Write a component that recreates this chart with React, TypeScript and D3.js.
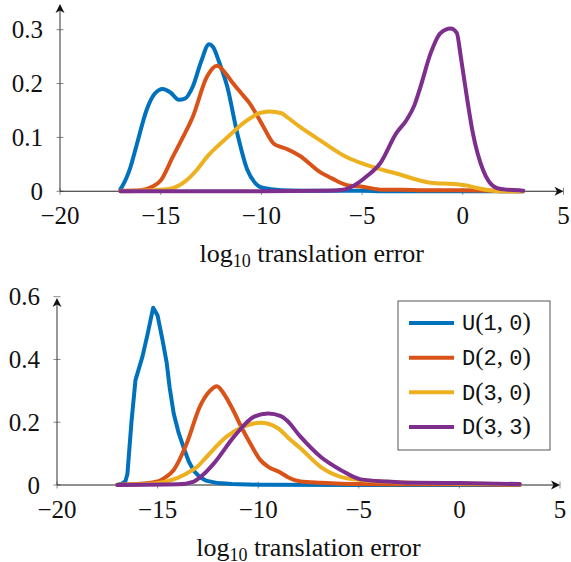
import React from 'react';
import * as d3 from 'd3';

type Pt = [number, number];

const seriesNames = ['U', 'D', 'D', 'D'];
const seriesArgs = [['1', '0'], ['2', '0'], ['3', '0'], ['3', '3']];
const seriesColors = ['#0072BD', '#D95319', '#EDB120', '#7E2F8E'];

const xTicks = [-20, -15, -10, -5, 0, 5];
const topYTicks = [0, 0.1, 0.2, 0.3];
const bottomYTicks = [0, 0.2, 0.4, 0.6];
const axisTitle = 'translation error';

// top panel
const topU10: Pt[] = [[-17, 0.004], [-16.9, 0.01], [-16.5, 0.045], [-16.2, 0.085], [-15.7, 0.151], [-15.3, 0.181], [-14.9, 0.19], [-14.5, 0.183], [-14.1, 0.17], [-13.8, 0.172], [-13.4, 0.195], [-13.0, 0.24], [-12.6, 0.273], [-12.4, 0.268], [-12.1, 0.24], [-11.7, 0.195], [-11.2, 0.108], [-10.7, 0.04], [-10.3, 0.015], [-10.0, 0.007], [-9, 0.002], [-7, 0.001], [-5, 0.001], [-4, 0], [3, 0]];
const topD20: Pt[] = [[-17, 0.001], [-16, 0.002], [-15.4, 0.009], [-15, 0.02], [-14.4, 0.064], [-13.9, 0.1], [-13.4, 0.139], [-12.7, 0.213], [-12.2, 0.233], [-11.8, 0.22], [-11.4, 0.2], [-11.0, 0.182], [-10.6, 0.164], [-10.2, 0.14], [-9.9, 0.12], [-9.4, 0.089], [-9.0, 0.082], [-8.7, 0.078], [-8.1, 0.066], [-7.1, 0.036], [-6.5, 0.024], [-5.8, 0.012], [-4.9, 0.008], [-4.0, 0.003], [-3, 0.003], [-2, 0.002], [0, 0.002], [1.5, 0.001], [2, 0], [3, 0]];
const topD30: Pt[] = [[-17, 0], [-16, 0.001], [-15, 0.003], [-14.4, 0.006], [-13.7, 0.021], [-13.2, 0.04], [-12.7, 0.064], [-12.2, 0.083], [-11.7, 0.1], [-10.7, 0.132], [-10.1, 0.145], [-9.6, 0.148], [-9.0, 0.145], [-8.7, 0.137], [-8.1, 0.12], [-7.1, 0.095], [-5.8, 0.064], [-4.8, 0.049], [-3.3, 0.033], [-1.6, 0.016], [-0.3, 0.013], [0.3, 0.01], [0.7, 0.006], [1.5, 0.001], [2, 0], [3, 0]];
const topD33: Pt[] = [[-17, 0], [-10, 0], [-7, 0.001], [-6.2, 0.002], [-5.8, 0.004], [-5.3, 0.013], [-4.8, 0.027], [-4.1, 0.052], [-3.3, 0.108], [-2.8, 0.132], [-2.4, 0.16], [-2.1, 0.194], [-1.6, 0.256], [-1.1, 0.294], [-0.6, 0.302], [-0.3, 0.294], [-0.1, 0.25], [0.1, 0.2], [0.5, 0.108], [1.0, 0.04], [1.3, 0.018], [1.7, 0.006], [2.2, 0.003], [2.8, 0.002], [3, 0.001]];

// bottom panel
const botU10: Pt[] = [[-17, 0], [-16.8, 0.003], [-16.6, 0.012], [-16.5, 0.035], [-16.3, 0.2], [-16.1, 0.334], [-15.75, 0.41], [-15.5, 0.48], [-15.22, 0.565], [-15.0, 0.54], [-14.75, 0.46], [-14.55, 0.39], [-14.4, 0.31], [-14.2, 0.228], [-13.95, 0.165], [-13.7, 0.118], [-13.45, 0.075], [-13.2, 0.045], [-12.9, 0.025], [-12.6, 0.014], [-12, 0.006], [-11.3, 0.003], [-10, 0.001], [-5, 0], [3, 0]];
const botD20: Pt[] = [[-17, 0.001], [-16, 0.003], [-15.0, 0.011], [-14.6, 0.025], [-14.2, 0.048], [-13.55, 0.133], [-12.9, 0.25], [-12.4, 0.3], [-12.05, 0.315], [-11.7, 0.29], [-11.25, 0.239], [-10.8, 0.18], [-10.4, 0.133], [-9.9, 0.08], [-9.5, 0.058], [-8.9, 0.04], [-8.5, 0.024], [-7.9, 0.011], [-6.9, 0.007], [-5, 0.003], [0, 0.002], [3, 0.001]];
const botD30: Pt[] = [[-17, 0], [-15.5, 0.003], [-14.55, 0.011], [-13.55, 0.037], [-13, 0.06], [-12.56, 0.09], [-11.57, 0.154], [-10.74, 0.186], [-9.9, 0.198], [-9.5, 0.195], [-9.0, 0.18], [-8.5, 0.15], [-7.9, 0.117], [-6.9, 0.058], [-5.9, 0.026], [-4.9, 0.016], [-3.6, 0.01], [-2, 0.006], [0, 0.005], [3, 0.002]];
const botD33: Pt[] = [[-17, 0], [-14, 0.002], [-13.2, 0.011], [-12.7, 0.035], [-12.2, 0.069], [-11.2, 0.154], [-10.2, 0.218], [-9.5, 0.228], [-8.9, 0.22], [-8.6, 0.207], [-7.9, 0.154], [-6.9, 0.09], [-5.9, 0.048], [-4.9, 0.018], [-3.6, 0.011], [-2.3, 0.007], [0, 0.006], [3, 0.003]];

const topSeries = [topU10, topD20, topD30, topD33];
const botSeries = [botU10, botD20, botD30, botD33];

const serif = 'Liberation Serif';
const mono = 'Liberation Mono';

interface PanelProps {
  series: Pt[][];
  yTicks: number[];
  x0: number;
  x1: number;
  yBase: number;
  yTop: number;
  arrowTop: number;
  sharpFirst?: boolean;
}

const fmtY = (v: number) => (v === 0 ? '0' : v.toFixed(1));
const fmtX = (v: number) => (v < 0 ? '\u2212' + Math.abs(v) : String(v));

const Panel = ({ series, yTicks, x0, x1, yBase, yTop, arrowTop, sharpFirst }: PanelProps) => {
  const x = d3.scaleLinear().domain([-20, 5]).range([x0, x1]);
  const y = d3.scaleLinear().domain([0, yTicks[yTicks.length - 1]]).range([yBase, yTop]);
  const smooth = d3.line<Pt>().x(d => x(d[0])).y(d => y(d[1])).curve(d3.curveMonotoneX);
  const sharp = d3.line<Pt>().x(d => x(d[0])).y(d => y(d[1]));

  return (
    <g>
      {yTicks.map(t => (
        <g key={'y' + t}>
          <line x1={x0 - 3.5} x2={x0 + 3.5} y1={y(t)} y2={y(t)} stroke="#888" strokeWidth={1} />
          <text x={x0 - 17} y={y(t)} dy="0.34em" textAnchor="end" fontFamily={serif} fontSize={25} fill="#111">
            {fmtY(t)}
          </text>
        </g>
      ))}
      {xTicks.map(t => (
        <g key={'x' + t}>
          <line x1={x(t)} x2={x(t)} y1={yBase - 3.5} y2={yBase + 3.5} stroke="#888" strokeWidth={1} />
          <text x={x(t)} y={yBase + 33} textAnchor="middle" fontFamily={serif} fontSize={25} fill="#111">
            {fmtX(t)}
          </text>
        </g>
      ))}
      <line x1={x0} x2={x1 - 2} y1={yBase} y2={yBase} stroke="#222" strokeWidth={1.1} />
      <line x1={x0} x2={x0} y1={yBase} y2={arrowTop + 2} stroke="#444" strokeWidth={1.1} />
      <path d={`M${x1},${yBase} L${x1 - 9},${yBase - 4.5} L${x1 - 6.5},${yBase} L${x1 - 9},${yBase + 4.5} Z`} fill="#111" />
      <path d={`M${x0},${arrowTop} L${x0 - 4.5},${arrowTop + 9} L${x0},${arrowTop + 6.5} L${x0 + 4.5},${arrowTop + 9} Z`} fill="#111" />
      {series.map((s, i) => (
        <path key={i} d={(sharpFirst && i === 0 ? sharp(s) : smooth(s)) || ''} fill="none" stroke={seriesColors[i]} strokeWidth={4} strokeLinejoin="round" strokeLinecap="round" />
      ))}
      <text x={(x0 + x1) / 2} y={yBase + 71} textAnchor="middle" fontFamily={serif} fontSize={26} fill="#111">
        log<tspan fontSize={18} dy={5}>10</tspan>
        <tspan dy={-5}> {axisTitle}</tspan>
      </text>
    </g>
  );
};

const Legend = ({ left, top }: { left: number; top: number }) => {
  const rowY = d3.scaleLinear().domain([0, 3]).range([top + 22, top + 126]);
  return (
    <g>
      <rect x={left} y={top} width={152} height={149} fill="white" stroke="#555" strokeWidth={1} />
      {seriesNames.map((n, i) => (
        <g key={i}>
          <line x1={left + 11} x2={left + 56} y1={rowY(i)} y2={rowY(i)} stroke={seriesColors[i]} strokeWidth={4} />
          <text x={left + 64} y={rowY(i)} dy="0.33em" fill="#111" fontSize={22}>
            <tspan fontFamily={mono}>{n}</tspan>
            <tspan fontFamily={serif} fontSize={25}>(</tspan>
            <tspan fontFamily={mono}>{seriesArgs[i][0]}</tspan>
            <tspan fontFamily={serif} fontSize={25}>, </tspan>
            <tspan fontFamily={mono}>{seriesArgs[i][1]}</tspan>
            <tspan fontFamily={serif} fontSize={25}>)</tspan>
          </text>
        </g>
      ))}
    </g>
  );
};

export default function App() {
  return (
    <svg width={571} height={562} style={{ position: 'absolute', left: 0, top: 0, background: 'white' }}>
      <Panel series={topSeries} yTicks={topYTicks} x0={60} x1={563.5} yBase={191.3} yTop={29.7} arrowTop={4} />
      <Panel series={botSeries} yTicks={bottomYTicks} x0={57} x1={560} yBase={485} yTop={296.7} arrowTop={298} sharpFirst />
      <Legend left={398} top={301} />
    </svg>
  );
}
